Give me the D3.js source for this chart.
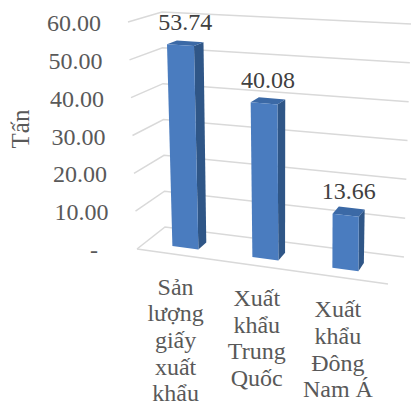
<!DOCTYPE html>
<html>
<head>
<meta charset="utf-8">
<script src="https://cdn.jsdelivr.net/npm/d3@7/dist/d3.min.js"></script>
<style>
  html, body { margin: 0; padding: 0; background: #ffffff; }
  svg { display: block; }
</style>
</head>
<body>
<svg id="chart" width="411" height="407"></svg>
<script>
// Export volumes (tonnes)
const categories = ["Sản lượng giấy xuất khẩu", "Xuất khẩu Trung Quốc", "Xuất khẩu Đông Nam Á"];
const values = [53.74, 40.08, 13.66];
const yTicks = [0, 10, 20, 30, 40, 50, 60];
const yTitle = "Tấn";

const svg = d3.select("#chart");
const FONT = "'Liberation Serif', 'Times New Roman', serif";

// Corners of the 3D plot box on screen: [front|back][left|right][bottom|top]
const box = {
  FLB: [137, 249], FLT: [128, 22], FRB: [388, 284], FRT: [390, 38],
  BLB: [165, 227], BLT: [162, 12], BRB: [404, 257], BRT: [411, 24]
};
const lerp = (a, b, t) => [a[0] + (b[0] - a[0]) * t, a[1] + (b[1] - a[1]) * t];
// u: along category axis, v: along value axis, w: depth (0 front, 1 back)
function proj(u, v, w) {
  const fb = lerp(box.FLB, box.FRB, u), ft = lerp(box.FLT, box.FRT, u);
  const bb = lerp(box.BLB, box.BRB, u), bt = lerp(box.BLT, box.BRT, u);
  const f = lerp(fb, ft, v), b = lerp(bb, bt, v);
  return lerp(f, b, w);
}

const x = d3.scaleBand().domain(categories).range([0, 0.97])
  .paddingInner(0.675).paddingOuter(0.3375);
const y = d3.scaleLinear().domain([0, 60]).range([0, 1]);
const depth = [0.3, 0.61];

const line = d3.line();
const gridColor = "#d9d9d9";

// Gridlines: side wall then back wall
const grid = svg.append("g").attr("fill", "none").attr("stroke", gridColor).attr("stroke-width", 1.5);
grid.selectAll("path").data(yTicks).join("path")
  .attr("d", t => line([proj(0, y(t), 0), proj(0, y(t), 1), proj(1, y(t), 1)]));
// Category axis along the front edge of the floor
grid.append("path").attr("d", line([proj(0, 0, 0), proj(1, 0, 0)]));

// Value tick labels
const fmt = t => t === 0 ? "-  " : d3.format(".2f")(t);
svg.append("g").selectAll("text").data(yTicks).join("text")
  .attr("x", t => proj(0, y(t), 0)[0] - 27)
  .attr("y", t => proj(0, y(t), 0)[1] + 9)
  .attr("text-anchor", "end")
  .style("font-family", FONT)
  .style("font-size", "24px")
  .style("white-space", "pre")
  .attr("fill", "#595959")
  .text(fmt);

// Axis title
svg.append("text")
  .attr("transform", "translate(29,129) rotate(-90)")
  .attr("text-anchor", "middle")
  .style("font-family", FONT)
  .style("font-size", "25px")
  .attr("fill", "#595959")
  .text(yTitle);

// 3D columns
const data = categories.map((c, i) => ({ c, v: values[i] }));
const bars = svg.append("g").selectAll("g").data(data).join("g");
const faces = d => {
  const u0 = x(d.c), u1 = x(d.c) + x.bandwidth();
  const v0 = y(0), v1 = y(d.v);
  const [w0, w1] = depth;
  return {
    top: [proj(u0, v1, w0), proj(u1, v1, w0), proj(u1, v1, w1), proj(u0, v1, w1)],
    side: [proj(u1, v0, w0), proj(u1, v1, w0), proj(u1, v1, w1), proj(u1, v0, w1)],
    front: [proj(u0, v0, w0), proj(u1, v0, w0), proj(u1, v1, w0), proj(u0, v1, w0)]
  };
};
const poly = pts => line(pts) + "Z";
bars.append("path").attr("d", d => poly(faces(d).side)).attr("fill", "#2f5687");
bars.append("path").attr("d", d => poly(faces(d).top)).attr("fill", "#3b69a6");
bars.append("path").attr("d", d => poly(faces(d).front)).attr("fill", "#4a7cbf");

// Value labels above each column
const labelPt = d => proj(x(d.c) + x.bandwidth() / 2, y(d.v), (depth[0] + depth[1]) / 2);
bars.append("text")
  .attr("x", d => labelPt(d)[0])
  .attr("y", d => labelPt(d)[1] - 13)
  .attr("text-anchor", "middle")
  .style("font-family", FONT)
  .style("font-size", "24px")
  .attr("fill", "#404040")
  .text(d => d3.format(".2f")(d.v));

// Category labels, wrapped to a narrow column under each bar
const wrapWidth = 80, lineH = 26.7;
const cat = svg.append("g").selectAll("text").data(categories).join("text")
  .attr("text-anchor", "middle")
  .style("font-family", FONT)
  .style("font-size", "24px")
  .attr("fill", "#595959");
cat.each(function (c) {
  const p = proj(x(c) + x.bandwidth() / 2, 0, 0);
  const el = d3.select(this);
  const words = c.split(" ");
  const lines = [];
  let cur = [];
  const probe = el.append("tspan");
  words.forEach(wd => {
    const test = cur.concat(wd).join(" ");
    probe.text(test);
    if (cur.length && probe.node().getComputedTextLength() > wrapWidth) {
      lines.push(cur.join(" "));
      cur = [wd];
    } else cur.push(wd);
  });
  lines.push(cur.join(" "));
  probe.remove();
  lines.forEach((ln, i) => {
    el.append("tspan").attr("x", p[0] - 2).attr("y", p[1] + 40 + i * lineH).text(ln);
  });
});
</script>
</body>
</html>
